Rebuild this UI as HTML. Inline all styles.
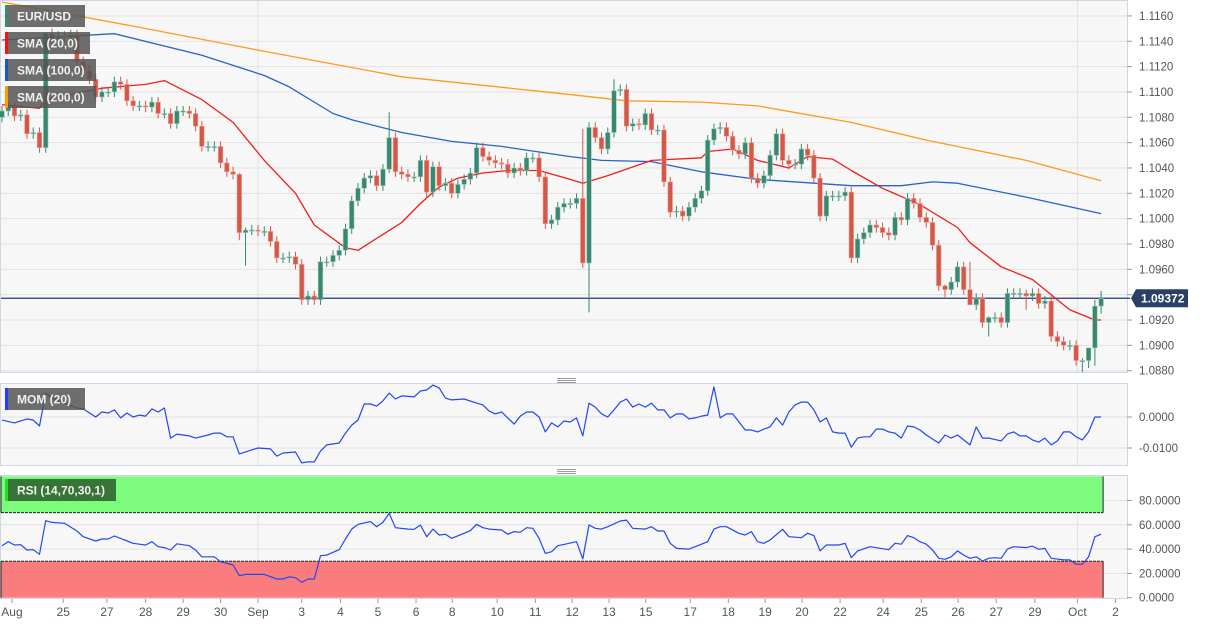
<!DOCTYPE html>
<html><head><meta charset="utf-8"><style>
html,body{margin:0;padding:0;background:#fff;}
svg{display:block;font-family:"Liberation Sans",Arial,sans-serif;}
</style></head><body>
<svg id="chart" width="1206" height="625" viewBox="0 0 1206 625" xmlns="http://www.w3.org/2000/svg">
<rect x="0" y="0" width="1206" height="625" fill="#ffffff"/>
<rect x="0.5" y="0.5" width="1127" height="372" fill="#f7f7f7" stroke="#cfd6e6"/>
<rect x="0.5" y="383.5" width="1127" height="82" fill="#f7f7f7" stroke="#cfd6e6"/>
<rect x="0.5" y="475.5" width="1127" height="123" fill="#f7f7f7" stroke="#cfd6e6"/>
<g id="grid"></g>
<g id="zones"></g>
<g id="smas"></g>
<g id="candles"></g>
<g id="ind"></g>
<g id="axes"></g>
<g id="legend"></g>
</svg>
<script>
// ===== data =====
const closes = [1.1085,1.1088,1.1081,1.1082,1.1067,1.1068,1.1056,1.1146,1.1142,1.1144,1.1143,1.1145,1.1124,1.1117,1.1110,1.1096,1.1100,1.1100,1.1108,1.1106,1.1093,1.1089,1.1089,1.1088,1.1092,1.1083,1.1083,1.1075,1.1085,1.1085,1.1083,1.1073,1.1057,1.1057,1.1057,1.1044,1.1037,1.1035,1.0989,1.0991,1.0991,1.0990,1.0990,1.0982,1.0969,1.0969,1.0970,1.0964,1.0936,1.0939,1.0936,1.0966,1.0966,1.0971,1.0975,1.0992,1.1014,1.1024,1.1032,1.1034,1.1026,1.1039,1.1064,1.1037,1.1035,1.1033,1.1033,1.1046,1.1021,1.1041,1.1026,1.1028,1.1020,1.1027,1.1031,1.1036,1.1056,1.1049,1.1046,1.1044,1.1043,1.1036,1.1040,1.1038,1.1048,1.1048,1.1033,1.0996,1.0999,1.1009,1.1012,1.1012,1.1016,1.0965,1.1072,1.1064,1.1055,1.1068,1.1101,1.1102,1.1073,1.1075,1.1074,1.1083,1.1070,1.1070,1.1029,1.1005,1.1006,1.1002,1.1009,1.1016,1.1022,1.1062,1.1071,1.1072,1.1065,1.1054,1.1051,1.1060,1.1032,1.1028,1.1034,1.1050,1.1067,1.1046,1.1043,1.1043,1.1055,1.1050,1.1032,1.1002,1.1018,1.1018,1.1018,1.1021,1.0969,1.0984,1.0989,1.0995,1.0993,1.0989,1.0987,1.1001,1.0999,1.1016,1.1012,1.1001,1.0997,1.0979,1.0947,1.0944,1.0950,1.0962,1.0944,1.0932,1.0937,1.0918,1.0922,1.0922,1.0918,1.0941,1.0941,1.0941,1.0939,1.0941,1.0933,1.0935,1.0907,1.0903,1.0900,1.0900,1.0888,1.0888,1.0898,1.0931,1.0937];
const firstOpen = 1.1080;
const wickIdx = [7,38,39,62,93,94,98,151,155,158,164,173,174,175,176];
const wickHigh = [1.1147,1.1036,1.0993,1.1084,1.1071,1.1076,1.1110,1.0948,1.0966,1.0923,1.0944,1.0890,1.0892,1.0936,1.0943];
const wickLow = [1.1052,1.0983,1.0963,1.1036,1.0961,1.0926,1.1064,1.0938,1.0940,1.0907,1.0928,1.0879,1.0882,1.0884,1.0925];

const sma20Idx = [0,6,7,16,23,26,32,37,42,47,50,55,57,64,67,70,73,77,81,86,91,93,97,104,112,113,117,121,126,129,133,136,141,147,153,155,160,165,168,171,175,176];
const sma20Val = [1.1090,1.1087,1.1094,1.1103,1.1106,1.1109,1.1094,1.1076,1.1046,1.1020,1.0995,1.0977,1.0975,1.0997,1.1012,1.1025,1.1032,1.1036,1.1038,1.1038,1.1031,1.1028,1.1034,1.1046,1.1048,1.1053,1.1055,1.1046,1.1040,1.1049,1.1047,1.1038,1.1024,1.1011,1.0993,1.0981,1.0962,1.0952,1.0940,1.0928,1.0920,1.0920];
const sma100Idx = [0,18,32,42,46,53,56,64,72,80,91,96,104,109,112,121,136,144,149,153,164,176];
const sma100Val = [1.1141,1.1146,1.1129,1.1113,1.1104,1.1083,1.1078,1.1068,1.1061,1.1057,1.1049,1.1046,1.1045,1.1040,1.1037,1.1031,1.1026,1.1026,1.1029,1.1028,1.1017,1.1004];
const sma200Idx = [0,21,41,64,89,100,112,121,136,148,164,176];
const sma200Val = [1.1171,1.1152,1.1133,1.1112,1.1099,1.1093,1.1092,1.1089,1.1076,1.1062,1.1046,1.1030];

const momIdx = [0,2,4,5,6,7,8,10,12,13,15,16,17,18,19,20,21,22,23,24,25,26,27,28,30,31,33,34,35,36,37,38,40,41,43,44,45,47,48,49,50,51,52,54,55,56,57,58,59,60,61,62,63,64,66,67,68,69,70,71,72,74,76,77,78,79,80,81,82,83,84,85,86,87,88,89,90,91,92,93,94,95,96,97,98,99,100,101,102,103,104,105,106,107,108,109,110,111,112,113,114,115,116,117,119,120,121,122,123,124,125,126,127,128,129,130,131,132,133,134,135,136,137,138,139,140,141,142,143,144,145,146,147,148,149,150,151,152,153,154,155,156,157,158,160,161,162,163,164,165,166,167,168,169,170,171,172,173,174,175,176];
const momVal = [-0.0010,-0.0019,-0.0006,-0.0010,-0.0029,0.0077,0.0061,0.0045,0.0029,0.0026,0,0.0016,0.0013,0.0023,-0.0003,0.0013,0,0.0006,0.0003,0.0026,0.0016,0.0029,-0.0068,-0.0055,-0.0061,-0.0068,-0.0058,-0.0052,-0.0052,-0.0064,-0.0064,-0.0119,-0.0106,-0.0100,-0.0103,-0.0126,-0.0116,-0.0113,-0.0148,-0.0145,-0.0145,-0.0110,-0.0090,-0.0084,-0.0052,-0.0026,-0.0010,0.0042,0.0042,0.0035,0.0052,0.0077,0.0058,0.0068,0.0065,0.0084,0.0087,0.0103,0.0094,0.0061,0.0055,0.0058,0.0045,0.0039,0.0019,0.0010,0.0016,-0.0003,-0.0023,0.0003,0.0016,0.0016,0,-0.0048,-0.0019,-0.0032,-0.0013,-0.0016,-0.0003,-0.0061,0.0045,0.0032,0.0010,0,0.0023,0.0048,0.0058,0.0032,0.0042,0.0032,0.0045,0.0023,0.0023,-0.0003,0.0010,0.0010,-0.0006,-0.0003,0.0003,0.0006,0.0097,-0.0003,0.0010,0.0010,-0.0042,-0.0042,-0.0048,-0.0039,-0.0032,-0.0003,-0.0026,0.0016,0.0039,0.0048,0.0048,0.0023,-0.0016,-0.0003,-0.0048,-0.0052,-0.0052,-0.0097,-0.0068,-0.0064,-0.0064,-0.0039,-0.0039,-0.0048,-0.0052,-0.0068,-0.0029,-0.0032,-0.0042,-0.0058,-0.0071,-0.0084,-0.0058,-0.0068,-0.0058,-0.0074,-0.0090,-0.0032,-0.0068,-0.0068,-0.0077,-0.0055,-0.0048,-0.0061,-0.0061,-0.0074,-0.0081,-0.0068,-0.0090,-0.0077,-0.0048,-0.0048,-0.0064,-0.0074,-0.0048,0,0];

const rsiIdx = [0,1,2,3,4,5,6,7,8,10,12,13,15,16,17,18,21,22,23,24,25,26,27,28,30,31,32,34,35,37,38,39,42,44,45,46,47,48,49,50,51,52,54,55,56,57,59,60,61,62,63,65,66,67,68,69,70,71,72,74,75,76,77,78,80,81,82,83,84,85,86,87,88,89,90,92,93,94,95,96,97,99,100,101,103,104,105,106,107,108,110,111,113,114,115,116,118,119,120,121,122,123,125,126,128,129,130,131,132,134,135,136,137,139,142,143,144,145,146,147,148,149,150,151,152,153,154,155,156,157,158,159,160,161,162,164,165,166,167,168,170,171,172,173,174,175,176];
const rsiVal = [42.8,46.1,43.4,43.6,39.3,39.5,35.7,63.4,62.0,61.2,54.9,50.2,46.7,48.3,48.3,50.8,44.8,44.0,43.4,46.1,42.0,41.2,39.3,44.4,42.8,39.3,33.7,33.7,29.6,26.9,18.1,19.2,19.2,15.4,15.4,17.2,16.5,12.7,15.4,15.4,34.6,35.1,39.5,48.3,56.5,60.4,62.6,58.4,62.0,69.5,57.6,56.5,56.3,59.8,50.2,56.5,51.6,52.2,48.9,53.0,55.2,60.4,57.6,56.5,55.7,52.2,54.4,53.8,57.6,57.1,48.9,36.5,37.9,42.8,43.9,46.1,31.9,59.8,57.1,56.5,58.4,63.1,63.9,57.1,56.5,58.4,54.9,54.9,44.8,40.6,40.0,42.0,46.1,56.5,58.4,58.4,53.0,51.6,54.4,46.1,44.8,47.5,56.3,50.2,49.4,53.0,51.1,38.5,43.4,43.4,44.8,32.9,38.5,42.0,39.5,44.8,44.0,51.1,49.4,46.1,44.0,39.3,32.4,31.6,33.7,38.5,35.1,32.4,33.7,30.2,32.4,32.9,32.4,40.0,42.0,41.2,42.5,39.8,40.6,32.4,31.1,31.1,27.5,27.5,33.7,50.2,52.2];

const priceTicks = [1.0880,1.0900,1.0920,1.0940,1.0960,1.0980,1.1000,1.1020,1.1040,1.1060,1.1080,1.1100,1.1120,1.1140,1.1160];
const momTicks = [0,-0.01];
const momTickLabels = ["0.0000","-0.0100"];
const rsiTicks = [0,20,40,60,80];
const rsiTickLabels = ["0.0000","20.0000","40.0000","60.0000","80.0000"];
const dateLabels = ["Aug","25","27","28","29","30","Sep","3","4","5","6","8","10","11","12","13","15","17","18","19","20","22","24","25","26","27","29","Oct","2"];
const dateIdx = [1.6,9.8,16.8,23,29,35,41,48,54.2,60.2,66.3,72.1,79.3,85.4,91.3,97.2,103.1,110.2,116.3,122.2,128.1,134.2,141.1,147.2,153.1,159.2,165.4,172.2,178.3];
const lastPrice = 1.09372;

// ===== scales =====
const NS = "http://www.w3.org/2000/svg";
const xOf = i => 2 + i * 6.245;
const yP = p => 117.3 + (1.108 - p) / 0.002 * 25.34;
const yM = m => 417 - m * 3100;
const yR = r => 597.7 - r * 1.215;
function mk(tag, attrs, parent){const e=document.createElementNS(NS,tag);for(const k in attrs)e.setAttribute(k,attrs[k]);parent.appendChild(e);return e;}
const G=id=>document.getElementById(id);

// grid
const grid=G('grid');
priceTicks.forEach(p=>{const l=mk('line',{x1:1,x2:1127,y1:yP(p),y2:yP(p),stroke:'#e2e2e2','stroke-width':1},grid);

});
[0,-0.01].forEach(m=>{const l=mk('line',{x1:1,x2:1127,y1:yM(m),y2:yM(m),stroke:'#e2e2e2'},grid);

});
rsiTicks.slice(1).forEach(r=>{const l=mk('line',{x1:1,x2:1127,y1:yR(r),y2:yR(r),stroke:'#e2e2e2'},grid);

});
[41,172.2].forEach(i=>{[[1,372],[384,465],[476,598]].forEach(([a,b])=>{const l=mk('line',{x1:xOf(i),x2:xOf(i),y1:a,y2:b,stroke:'#e2e2e2'},grid);

});});

// rsi zones
const zones=G('zones');
const zx2 = xOf(176)+2;
let z=mk('rect',{x:1,y:yR(99.9),width:zx2-1,height:yR(70)-yR(99.9),fill:'#7cfb7c'},zones);


z=mk('rect',{x:1,y:yR(30),width:zx2-1,height:yR(0)-yR(30),fill:'#fb7c7c'},zones);


mk('line',{x1:1,x2:zx2,y1:yR(70),y2:yR(70),stroke:'#222','stroke-dasharray':'3,1'},zones);
mk('line',{x1:1,x2:zx2,y1:yR(30),y2:yR(30),stroke:'#222','stroke-dasharray':'3,1'},zones);
mk('line',{x1:zx2,x2:zx2,y1:yR(99.9),y2:yR(70),stroke:'#222'},zones);
mk('line',{x1:zx2,x2:zx2,y1:yR(30),y2:yR(0),stroke:'#222'},zones);
mk('line',{x1:1,x2:1,y1:yR(99.9),y2:yR(70),stroke:'#222'},zones);
mk('line',{x1:1,x2:1,y1:yR(30),y2:yR(0),stroke:'#222'},zones);

// current price line
const cp=mk('line',{x1:1,x2:1130,y1:yP(lastPrice),y2:yP(lastPrice),stroke:'#1f3a6b','stroke-width':1.2},grid);



// SMAs
function poly(idx,val,yf,color,name,parent,w){
  const pts=idx.map((i,k)=>xOf(i).toFixed(1)+','+yf(val[k]).toFixed(1)).join(' ');
  const p=mk('polyline',{points:pts,fill:'none',stroke:color,'stroke-width':w||1.3,'stroke-linejoin':'round'},parent);
  
  
}
const sm=G('smas');
poly(sma200Idx,sma200Val,yP,'#ff9a1a','sma-200-line',sm);
poly(sma100Idx,sma100Val,yP,'#2a62c4','sma-100-line',sm);
poly(sma20Idx,sma20Val,yP,'#f21c1c','sma-20-line',sm);

// candles
const cg=G('candles');
let prev=firstOpen;
closes.forEach((c,i)=>{
  const o=prev; prev=c;
  const up=c>=o;
  let hi=Math.max(o,c)+0.0004, lo=Math.min(o,c)-0.0004;
  const w=wickIdx.indexOf(i); if(w>=0){hi=wickHigh[w];lo=wickLow[w];}
  const x=xOf(i);
  const col=up?'#38876f':'#d65747';
  const g=mk('g',{},cg);
  
  
  mk('line',{x1:x,x2:x,y1:yP(hi),y2:yP(lo),stroke:col,'stroke-width':1},g);
  const yt=yP(Math.max(o,c)), yb=yP(Math.min(o,c));
  mk('rect',{x:x-2.3,y:yt,width:4.6,height:Math.max(1.2,yb-yt),fill:col,stroke:up?'#9cc7b8':'#eaa59b','stroke-width':0.6},g);
});

// indicators
const ind=G('ind');
poly(momIdx,momVal,yM,'#2346f0','momentum-line',ind,1.2);
poly(rsiIdx,rsiVal,yR,'#2346f0','rsi-line',ind,1.2);

// axes
const ax=G('axes');
function txt(s,x,y,attrs,name,parent){const t=mk('text',Object.assign({x:x,y:y,'font-size':12,fill:'#555'},attrs||{}),parent||ax);t.textContent=s;

return t;}
priceTicks.forEach(p=>{mk('line',{x1:1127,x2:1132,y1:yP(p),y2:yP(p),stroke:'#999'},ax);txt(p.toFixed(4),1139,yP(p)+4,{'font-size':11.5},'price-tick-label');});
momTicks.forEach((m,k)=>{mk('line',{x1:1127,x2:1132,y1:yM(m),y2:yM(m),stroke:'#999'},ax);txt(momTickLabels[k],1139,yM(m)+4,{'font-size':11.5},'momentum-tick-label');});
rsiTicks.forEach((r,k)=>{mk('line',{x1:1127,x2:1132,y1:yR(r),y2:yR(r),stroke:'#999'},ax);txt(rsiTickLabels[k],1139,yR(r)+4,{'font-size':11.5},'rsi-tick-label');});
dateLabels.forEach((d,k)=>{const x=xOf(dateIdx[k]);mk('line',{x1:x,x2:x,y1:599,y2:603,stroke:'#999'},ax);txt(d,x,616,{'text-anchor':'middle','font-size':12},'date-tick-label');});
// last price tag
const tag=mk('path',{d:`M1131 ${yP(lastPrice)} L1136 ${yP(lastPrice)-9} L1188 ${yP(lastPrice)-9} L1188 ${yP(lastPrice)+9} L1136 ${yP(lastPrice)+9} Z`,fill:'#2a3f66'},ax);


txt(lastPrice.toFixed(5),1141,yP(lastPrice)+4.5,{'font-size':12,'font-weight':'bold',fill:'#fff'},'last-price-label');
// panel resize handles
[[378,'momentum-resize-handle'],[469,'rsi-resize-handle']].forEach(([y,n])=>{const g=mk('g',{},ax);


[0,2,4].forEach(d=>mk('line',{x1:557,x2:576,y1:y+d+0.5,y2:y+d+0.5,stroke:'#777','stroke-width':0.8},g));});

// legend
const lg=G('legend');
function box(x,y,w,h,label,bar,bg,name){const g=mk('g',{},lg);


mk('rect',{x:x,y:y,width:w,height:h,fill:bg,'fill-opacity':0.85},g);
mk('rect',{x:x,y:y,width:3,height:h,fill:bar},g);
const t=mk('text',{x:x+12,y:y+h/2+4.5,'font-size':12,'font-weight':'bold',fill:'#f0f0f0'},g);t.textContent=label;}
box(5,5,80,22,'EUR/USD','#3a8a72','#555555','legend-eurusd');
box(5,32,85,22,'SMA (20,0)','#ff1010','#555555','legend-sma-20');
box(5,59,91,22,'SMA (100,0)','#1f55c0','#555555','legend-sma-100');
box(5,86,91,22,'SMA (200,0)','#ff9a00','#555555','legend-sma-200');
box(5,388,80,22,'MOM (20)','#1f3cff','#555555','legend-momentum');
box(5,479,111,22,'RSI (14,70,30,1)','#22e022','#2d5a2d','legend-rsi');
</script>
</body></html>
